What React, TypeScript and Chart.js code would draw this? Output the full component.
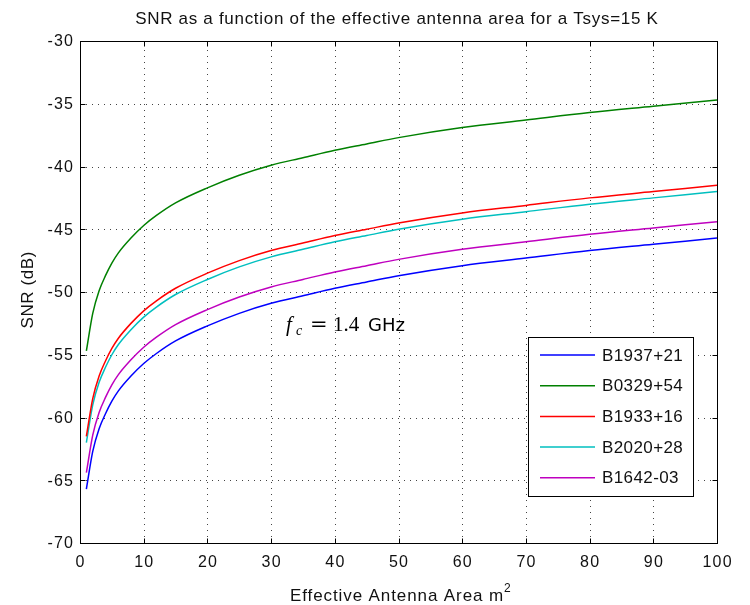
import React, { useEffect, useRef } from "react";
import { Chart, registerables } from "chart.js";

Chart.register(...registerables);

const titleText = "SNR as a function of the effective antenna area for a Tsys=15 K";
const xLabelText = "Effective Antenna Area m";
const yLabelText = "SNR (dB)";

const areas = [1, 2, 3, 4, 5, 6, 8, 10, 12, 15, 20, 25, 30, 35, 40, 45, 50, 60, 70, 80, 90, 100];

const snrB1937 = [-65.7, -62.7, -60.9, -59.7, -58.7, -57.9, -56.7, -55.7, -54.9, -53.9, -52.7, -51.7, -50.9, -50.3, -49.7, -49.2, -48.7, -47.9, -47.3, -46.7, -46.2, -45.7];
const snrB0329 = [-54.7, -51.7, -49.9, -48.7, -47.7, -46.9, -45.7, -44.7, -43.9, -42.9, -41.7, -40.7, -39.9, -39.3, -38.7, -38.2, -37.7, -36.9, -36.3, -35.7, -35.2, -34.7];
const snrB1933 = [-61.5, -58.5, -56.7, -55.5, -54.5, -53.7, -52.5, -51.5, -50.7, -49.7, -48.5, -47.5, -46.7, -46.1, -45.5, -45.0, -44.5, -43.7, -43.1, -42.5, -42.0, -41.5];
const snrB2020 = [-62.0, -59.0, -57.2, -56.0, -55.0, -54.2, -53.0, -52.0, -51.2, -50.2, -49.0, -48.0, -47.2, -46.6, -46.0, -45.5, -45.0, -44.2, -43.6, -43.0, -42.5, -42.0];
const snrB1642 = [-64.4, -61.4, -59.6, -58.4, -57.4, -56.6, -55.4, -54.4, -53.6, -52.6, -51.4, -50.4, -49.6, -49.0, -48.4, -47.9, -47.4, -46.6, -46.0, -45.4, -44.9, -44.4];

const seriesNames = ["B1937+21", "B0329+54", "B1933+16", "B2020+28", "B1642-03"];
const seriesValues = [snrB1937, snrB0329, snrB1933, snrB2020, snrB1642];
const seriesColors = ["#0000ff", "#008000", "#ff0000", "#00bfbf", "#bf00bf"];

const xTicks = [0, 10, 20, 30, 40, 50, 60, 70, 80, 90, 100];
const yTicks = [-70, -65, -60, -55, -50, -45, -40, -35, -30];

const FONT = "'Liberation Sans', Arial, sans-serif";

function drawText(ctx: any, text: string, x: number, y: number, align: string, spacing: number) {
  ctx.letterSpacing = `${spacing}px`;
  ctx.textAlign = "left";
  const w = ctx.measureText(text).width - spacing;
  let sx = x;
  if (align === "center") sx = x - w / 2;
  else if (align === "right") sx = x - w;
  ctx.fillText(text, sx, y);
  ctx.letterSpacing = "0px";
  return w;
}

const matlabPlugin = {
  id: "matlabDecor",
  beforeDatasetsDraw(chart: any) {
    const { ctx, chartArea: a, scales } = chart;
    ctx.save();
    ctx.strokeStyle = "#444";
    ctx.lineWidth = 1;
    ctx.setLineDash([1, 5]);
    for (const v of xTicks) {
      if (v === 0 || v === 100) continue;
      const px = Math.round(scales.x.getPixelForValue(v)) + 0.5;
      ctx.beginPath();
      ctx.moveTo(px, a.bottom);
      ctx.lineTo(px, a.top);
      ctx.stroke();
    }
    for (const v of yTicks) {
      if (v === -70 || v === -30) continue;
      const py = Math.round(scales.y.getPixelForValue(v)) + 0.5;
      ctx.beginPath();
      ctx.moveTo(a.left, py);
      ctx.lineTo(a.right, py);
      ctx.stroke();
    }
    ctx.restore();
  },
  afterDatasetsDraw(chart: any) {
    const { ctx, chartArea: a, scales } = chart;
    ctx.save();
    ctx.setLineDash([]);
    ctx.strokeStyle = "#000";
    ctx.lineWidth = 1;
    const L = Math.round(a.left) + 0.5;
    const R = Math.round(a.right) + 0.5;
    const T = Math.round(a.top) + 0.5;
    const B = Math.round(a.bottom) + 0.5;
    ctx.strokeRect(L, T, R - L, B - T);
    const tl = 5;
    for (const v of xTicks) {
      const px = Math.round(scales.x.getPixelForValue(v)) + 0.5;
      ctx.beginPath();
      ctx.moveTo(px, B);
      ctx.lineTo(px, B - tl);
      ctx.moveTo(px, T);
      ctx.lineTo(px, T + tl);
      ctx.stroke();
    }
    for (const v of yTicks) {
      const py = Math.round(scales.y.getPixelForValue(v)) + 0.5;
      ctx.beginPath();
      ctx.moveTo(L, py);
      ctx.lineTo(L + tl, py);
      ctx.moveTo(R, py);
      ctx.lineTo(R - tl, py);
      ctx.stroke();
    }

    ctx.fillStyle = "#111";
    ctx.textBaseline = "middle";
    ctx.font = `16px ${FONT}`;
    for (const v of xTicks) {
      drawText(ctx, String(v), scales.x.getPixelForValue(v), 563, "center", 1.2);
    }
    for (const v of yTicks) {
      drawText(ctx, String(v), 73, scales.y.getPixelForValue(v) + 1, "right", 1.2);
    }

    // title
    ctx.textBaseline = "alphabetic";
    ctx.font = `17px ${FONT}`;
    drawText(ctx, titleText, (a.left + a.right) / 2 - 2, 24, "center", 0.7);

    // x label with superscript
    ctx.font = `17px ${FONT}`;
    ctx.letterSpacing = "0.9px";
    const w1 = ctx.measureText(xLabelText).width;
    ctx.letterSpacing = "0px";
    const startX = 290;
    drawText(ctx, xLabelText, startX, 601, "left", 0.9);
    ctx.font = `12px ${FONT}`;
    drawText(ctx, "2", startX + w1, 592, "left", 0);

    // y label
    ctx.save();
    ctx.translate(33, (a.top + a.bottom) / 2 - 2);
    ctx.rotate(-Math.PI / 2);
    ctx.textBaseline = "alphabetic";
    ctx.font = `17px ${FONT}`;
    drawText(ctx, yLabelText, 0, 0, "center", 0.6);
    ctx.restore();

    // annotation f_c = 1.4 GHz
    ctx.fillStyle = "#000";
    ctx.textAlign = "left";
    ctx.textBaseline = "alphabetic";
    const ay = 331;
    ctx.font = "italic 21px 'Liberation Serif', serif";
    ctx.fillText("f", 286, ay);
    ctx.font = "italic 14px 'Liberation Serif', serif";
    ctx.fillText("c", 296, ay + 4);
    ctx.font = "21px 'DejaVu Serif', serif";
    ctx.fillText("=", 310, ay);
    ctx.font = "21px 'Liberation Serif', serif";
    ctx.fillText("1.4", 333, ay);
    ctx.font = `18px 'DejaVu Sans', sans-serif`;
    ctx.fillText("GHz", 368, ay);

    // legend
    const lx = 528.5, ly = 337.5, lw = 165, lh = 159;
    ctx.fillStyle = "#fff";
    ctx.fillRect(lx, ly, lw, lh);
    ctx.strokeStyle = "#000";
    ctx.lineWidth = 1;
    ctx.strokeRect(lx, ly, lw, lh);
    ctx.font = `17px ${FONT}`;
    ctx.textBaseline = "middle";
    chart.data.datasets.forEach((ds: any, i: number) => {
      const y = 355 + i * 30.7;
      ctx.strokeStyle = ds.borderColor;
      ctx.lineWidth = 1.5;
      ctx.beginPath();
      ctx.moveTo(540, y);
      ctx.lineTo(595, y);
      ctx.stroke();
      ctx.fillStyle = "#111";
      drawText(ctx, ds.label, 602, y + 1, "left", 0.4);
    });
    ctx.restore();
  },
};

export default function App() {
  const ref = useRef<HTMLCanvasElement | null>(null);
  useEffect(() => {
    document.body.style.margin = "0";
    const canvas = ref.current;
    if (!canvas) return;
    const chart = new Chart(canvas, {
      type: "line",
      data: {
        datasets: seriesNames.map((name, i) => ({
          label: name,
          data: areas.map((x, j) => ({ x, y: seriesValues[i][j] })),
          borderColor: seriesColors[i],
          backgroundColor: seriesColors[i],
          borderWidth: 1.5,
          pointRadius: 0,
          fill: false,
          cubicInterpolationMode: "monotone" as const,
        })),
      },
      options: {
        animation: false,
        responsive: false,
        devicePixelRatio: 1,
        layout: { padding: { top: 41, right: 33, left: 0, bottom: 0 } },
        plugins: {
          legend: { display: false },
          title: { display: false },
          tooltip: { enabled: false },
        },
        scales: {
          x: {
            type: "linear",
            min: 0,
            max: 100,
            afterBuildTicks: (s: any) => {
              s.ticks = xTicks.map((v) => ({ value: v }));
            },
            afterFit: (s: any) => {
              s.height = 62;
            },
            grid: { display: false, drawTicks: false },
            border: { display: false },
            ticks: { display: false },
          },
          y: {
            type: "linear",
            min: -70,
            max: -30,
            afterBuildTicks: (s: any) => {
              s.ticks = yTicks.map((v) => ({ value: v }));
            },
            afterFit: (s: any) => {
              s.width = 80;
            },
            grid: { display: false, drawTicks: false },
            border: { display: false },
            ticks: { display: false },
          },
        },
      },
      plugins: [matlabPlugin],
    } as any);
    return () => chart.destroy();
  }, []);
  return (
    <div style={{ width: 750, height: 605, background: "#fff" }}>
      <canvas ref={ref} width={750} height={605} style={{ display: "block" }} />
    </div>
  );
}
